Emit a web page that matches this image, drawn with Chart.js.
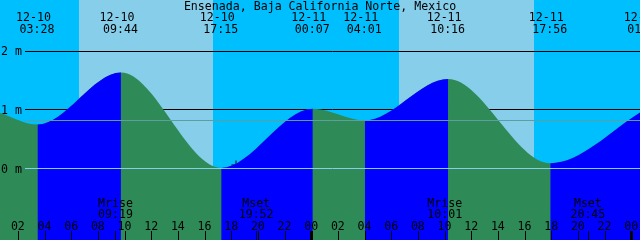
<!DOCTYPE html>
<html>
<head>
<meta charset="utf-8">
<script src="https://cdn.jsdelivr.net/npm/chart.js@4.4.0/dist/chart.umd.min.js"></script>
<style>
  html, body { margin: 0; padding: 0; background: #00bfff; }
  #wrap { width: 640px; height: 240px; }
</style>
</head>
<body>
<div id="wrap"><canvas id="canvas" width="640" height="240"></canvas></div>
<script>
// times are hours counted from 12-10 00:00, heights in metres
var curveTimes   = [0.66, 3.47, 9.73, 17.25, 24.12, 28.02, 34.27, 41.93, 49.05];
var curveHeights = [0.95, 0.75, 1.64, 0.01, 1.02, 0.82, 1.53, 0.09, 1.01];

var extremeTimes = [3.47, 9.73, 17.25, 24.12, 28.02, 34.27, 41.93, 49.05];
var extremeDates = ['12-10', '12-10', '12-10', '12-11', '12-11', '12-11', '12-11', '12-12'];
var extremeClock = ['03:28', '09:44', '17:15', '00:07', '04:01', '10:16', '17:56', '01:03'];

var dayStart = [6.585, 30.585];
var dayEnd   = [16.66, 40.71];

var moonTimes = [9.32, 19.87, 34.02, 44.75];
var moonNames = ['Mrise', 'Mset', 'Mrise', 'Mset'];
var moonClock = ['09:19', '19:52', '10:01', '20:45'];

var levelValues = [0, 1, 2];
var levelLabels = ['0 m', '1 m', '2 m'];
var mslLevel = 0.82;

var nowMark = [{ x: 18.36, y: 0.06 }];

var hourTicks = [2, 4, 6, 8, 10, 12, 14, 16, 18, 20, 22, 24, 26, 28, 30, 32, 34, 36, 38, 40, 42, 44, 46, 48];
var hourLabels = ['02', '04', '06', '08', '10', '12', '14', '16', '18', '20', '22', '00',
                  '02', '04', '06', '08', '10', '12', '14', '16', '18', '20', '22', '00'];

var title = 'Ensenada, Baja California Norte, Mexico';
var FONT = '11.6px "DejaVu Sans Mono"';

var tidePoints = curveTimes.map(function (t, i) { return { x: t, y: curveHeights[i] }; });

// ebb is filled green everywhere, flood is painted blue on top of it
// (the filler paints the last dataset first, so flood goes first in the list)
function floodColor(ctx) {
    return ctx.p1.parsed.y > ctx.p0.parsed.y ? '#0000ff' : 'rgba(0,0,0,0)';
}

var backdrop = {
    id: 'backdrop',
    beforeDatasetsDraw: function (chart) {
        var c = chart.ctx, x = chart.scales.x, y = chart.scales.y, a = chart.chartArea;
        c.save();
        c.fillStyle = '#00bfff';
        c.fillRect(a.left, a.top, a.right - a.left, a.bottom - a.top);
        c.fillStyle = '#87ceeb';
        for (var i = 0; i < dayStart.length; i++) {
            var x0 = Math.round(x.getPixelForValue(dayStart[i]));
            var x1 = Math.round(x.getPixelForValue(dayEnd[i]));
            c.fillRect(x0, a.top, x1 - x0, a.bottom - a.top);
        }
        // 1 m and 2 m lines sit behind the water
        c.strokeStyle = '#000000';
        c.lineWidth = 1;
        levelValues.forEach(function (v) {
            if (v === 0) return;
            var py = Math.floor(y.getPixelForValue(v)) + 0.5;
            c.beginPath();
            c.moveTo(25, py);
            c.lineTo(a.right, py);
            c.stroke();
        });
        c.restore();
    },
    afterDatasetsDraw: function (chart) {
        var c = chart.ctx, x = chart.scales.x, y = chart.scales.y, a = chart.chartArea;
        c.save();
        c.lineWidth = 1;
        // datum and mean sea level lines over the water
        var p0 = Math.floor(y.getPixelForValue(0)) + 0.5;
        c.strokeStyle = '#87ceeb';
        c.beginPath(); c.moveTo(25, p0); c.lineTo(a.right, p0); c.stroke();
        var pm = Math.floor(y.getPixelForValue(mslLevel)) + 0.5;
        c.strokeStyle = '#5f9ea0';
        c.beginPath(); c.moveTo(25, pm); c.lineTo(a.right, pm); c.stroke();

        c.font = FONT;
        c.fillStyle = '#000000';

        c.textAlign = 'left';
        levelValues.forEach(function (v, i) {
            c.fillText(levelLabels[i], 1, y.getPixelForValue(v) + 4);
        });

        c.textAlign = 'center';
        c.fillText(title, 320, 10);

        extremeTimes.forEach(function (t, i) {
            var px = x.getPixelForValue(t);
            c.fillText(extremeDates[i], px - 4, 21);
            c.fillText(extremeClock[i], px - 0.5, 33);
        });

        moonTimes.forEach(function (t, i) {
            var px = x.getPixelForValue(t);
            c.fillText(moonNames[i], px, 207);
            c.fillText(moonClock[i], px, 218);
            c.fillRect(Math.round(px), 231, 1, 9);
        });

        hourTicks.forEach(function (h, i) {
            var px = x.getPixelForValue(h);
            c.fillText(hourLabels[i], px, 229.5);
            if (h % 24 === 0) c.fillRect(Math.round(px) - 1, 231, 3, 9);
            else c.fillRect(Math.round(px), 231, 1, 9);
        });
        c.restore();
    }
};

var ctx = document.getElementById('canvas').getContext('2d');
var chart = new Chart(ctx, {
    type: 'line',
    data: {
        datasets: [{
            label: 'Flood',
            data: tidePoints,
            fill: 'start',
            backgroundColor: '#0000ff',
            borderColor: 'rgba(0,0,0,0)',
            borderWidth: 1,
            pointRadius: 0,
            cubicInterpolationMode: 'monotone',
            segment: {
                backgroundColor: floodColor
            }
        }, {
            label: 'Ebb',
            data: tidePoints,
            fill: 'start',
            backgroundColor: '#2e8b57',
            borderColor: 'rgba(0,0,0,0)',
            borderWidth: 1,
            pointRadius: 0,
            cubicInterpolationMode: 'monotone'
        }, {
            label: 'Now',
            data: nowMark,
            showLine: false,
            pointStyle: 'cross',
            pointRadius: 4.5,
            borderColor: '#000000',
            borderWidth: 1
        }]
    },
    options: {
        responsive: false,
        animation: false,
        devicePixelRatio: 1,
        layout: { padding: 0, autoPadding: false },
        plugins: { legend: { display: false }, tooltip: { enabled: false } },
        scales: {
            x: { type: 'linear', min: 0.66, max: 48.66, display: false },
            y: { type: 'linear', min: -1.222, max: 2.88, display: false }
        }
    },
    plugins: [backdrop]
});
</script>
</body>
</html>
